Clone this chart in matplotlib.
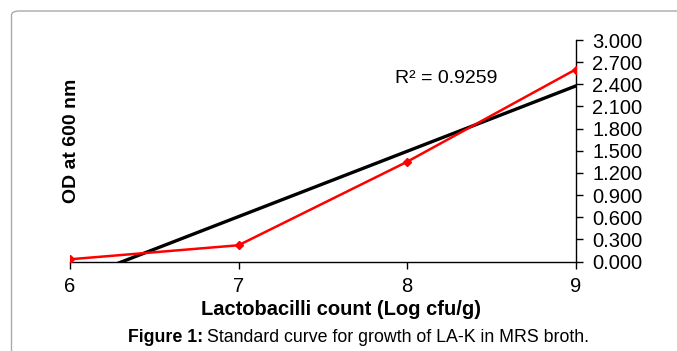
import numpy as np
import matplotlib
matplotlib.use("Agg")
import matplotlib.pyplot as plt
from matplotlib.patches import FancyBboxPatch

# Data
log_count = [6, 7, 8, 9]
od600 = [0.03, 0.22, 1.35, 2.60]
x_ticks = [6, 7, 8, 9]
y_ticks = [0.0, 0.3, 0.6, 0.9, 1.2, 1.5, 1.8, 2.1, 2.4, 2.7, 3.0]
r2_label = "R² = 0.9259"

plt.rcParams['font.family'] = ['Liberation Sans', 'DejaVu Sans']

W, H = 677, 351
fig = plt.figure(figsize=(W / 100, H / 100), dpi=100)

# Outer rounded border (figure coordinates, extends past right/bottom edges)
border = FancyBboxPatch((11.5 / W, -20 / H), (W + 30) / W, (H - 11 + 20) / H,
                        boxstyle="round,pad=0,rounding_size=0.012",
                        transform=fig.transFigure, facecolor='none',
                        edgecolor='#aaaaaa', linewidth=1.0, clip_on=False)
fig.patches.append(border)

ax = fig.add_axes([70 / W, (H - 261.5) / H, (575.5 - 70) / W, (261.5 - 40) / H])

ax.plot(log_count, od600, color='#ff0000', linewidth=1.8, marker='D',
        markersize=4, zorder=3)

# Linear trendline computed from the data
coef = np.polyfit(log_count, od600, 1)
xt = np.array([log_count[0], log_count[-1]])
ax.plot(xt, np.polyval(coef, xt), color='black', linewidth=2.4, zorder=2)

ax.set_xlim(6, 9)
ax.set_ylim(0, 3)
ax.set_xticks(x_ticks)
ax.set_xticklabels([str(v) for v in x_ticks], fontsize=14.5)
ax.yaxis.tick_right()
ax.set_yticks(y_ticks)
ax.set_yticklabels([f"{v:.3f}" for v in y_ticks], fontsize=14.5)
ax.tick_params(axis='y', direction='out', length=5, width=1, pad=7)
ax.tick_params(axis='x', direction='out', length=5, width=1, pad=6.5)

for s in ['top', 'left']:
    ax.spines[s].set_visible(False)
ax.spines['right'].set_linewidth(1)
ax.spines['bottom'].set_linewidth(1)

ax.annotate(r2_label, xy=(395 / W, (H - 83) / H), xycoords='figure fraction',
            fontsize=14, ha='left', va='baseline')

fig.text(341 / W, (H - 315) / H, "Lactobacilli count (Log cfu/g)",
         fontsize=14.5, fontweight='bold', ha='center', va='baseline')
fig.text(71 / W, (H - 141) / H, "OD at 600 nm", fontsize=14,
         fontweight='bold', rotation=90, ha='center', va='center')

# Caption
cap_y = (H - 342) / H
t1 = fig.text(128 / W, cap_y, "Figure 1:", fontsize=12.8, fontweight='bold',
              ha='left', va='baseline')
fig.canvas.draw()
bb = t1.get_window_extent()
fig.text((bb.x1 + 4) / W, cap_y, "Standard curve for growth of LA-K in MRS broth.",
         fontsize=12.8, ha='left', va='baseline')

fig.savefig("out.png", dpi=100)
